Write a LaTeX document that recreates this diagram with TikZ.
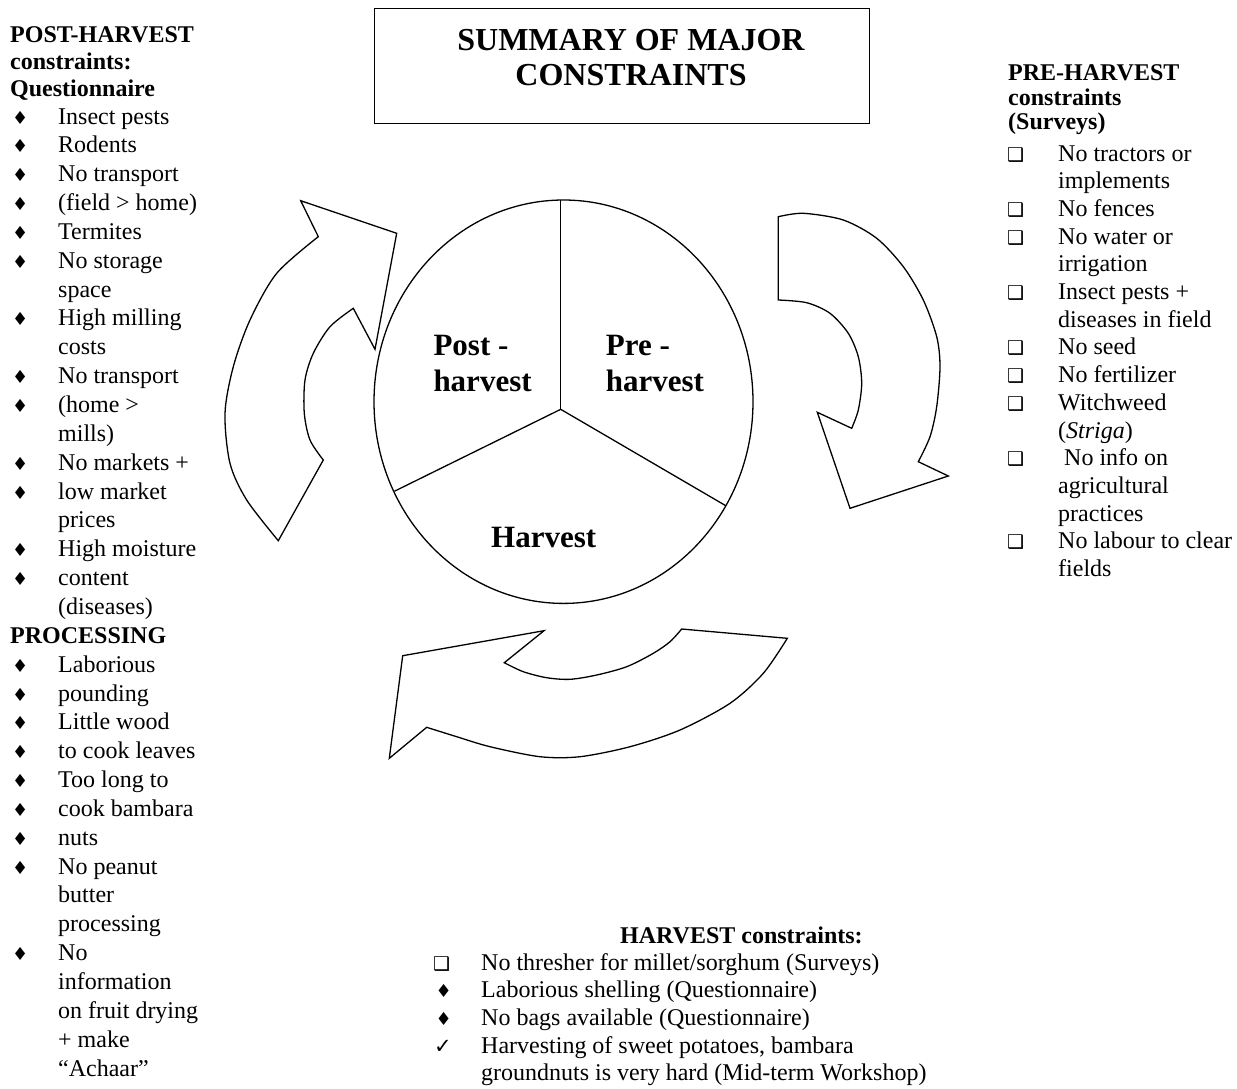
\documentclass[tikz,border=0pt]{standalone}
\usepackage{fontspec}
\setmainfont{Liberation Serif}
\newfontfamily\dejavu{DejaVu Sans}
\usetikzlibrary{shapes.geometric}
\newcommand{\dia}{{\dejavu\fontsize{18}{18}\selectfont ♦}}
\newcommand{\sqb}{{\dejavu\fontsize{19}{19}\selectfont ❑}}
\newcommand{\chk}{{\dejavu\fontsize{21}{21}\selectfont ✓}}
\newcommand{\bl}[3]{\makebox[#1pt][l]{\hspace{#2pt}#3}}
\begin{document}
\begin{tikzpicture}[x=1pt,y=-1pt,
  shp/.style={draw, line width=1.3pt, line join=miter},
  txt/.style={anchor=base west, inner sep=0pt, align=left},
  big/.style={font=\fontsize{24}{28.85}\selectfont},
  lbl/.style={anchor=base west, inner sep=0pt, align=left, font=\bfseries\fontsize{31}{36.7}\selectfont}]
\useasboundingbox (0,0) rectangle (1237,1088);

% title
\node[draw, line width=1.3pt, minimum width=495pt, minimum height=115pt, inner sep=0pt] (titlebox) at (621.7,65.8) {};
\node[anchor=base, inner sep=0pt, align=center, font=\bfseries\fontsize{32}{35}\selectfont] (title) at (631,50.5)
  {\begin{tabular}[t]{@{}c@{}}SUMMARY OF MAJOR\\CONSTRAINTS\end{tabular}};

% circle
\node[ellipse, draw, line width=1.3pt, minimum width=379pt, minimum height=403.4pt, inner sep=0pt] (circ) at (563.5,401.7) {};
\coordinate (hub) at (560.7,409.3);
\coordinate (ctop) at (560.7,200.1);
\coordinate (cll) at (394.5,491.2);
\coordinate (clr) at (725.6,505.6);
\draw[line width=1.3pt] (hub) -- (ctop);
\draw[line width=1.3pt] (hub) -- (cll);
\draw[line width=1.3pt] (hub) -- (clr);
\node[lbl] (postlbl) at (433.3,355) {\begin{tabular}[t]{@{}l@{}}Post -\\harvest\end{tabular}};
\node[lbl] (prelbl) at (605.7,355) {\begin{tabular}[t]{@{}l@{}}Pre -\\harvest\end{tabular}};
\node[lbl] (harvlbl) at (491,547.7) {Harvest};

% left arrow (up)
\draw[shp] (300.7,200.7) -- (318.3,236.7)
  -- plot[smooth] coordinates {(318.3,236.7) (276.7,273.3) (250,320) (233.3,366.7) (225,413.3) (230,463.3) (246.7,500) (278.3,540.7)}
  -- (323.3,460)
  -- plot[smooth] coordinates {(323.3,460) (310,440) (304.3,413.3) (305,380) (313.3,353.3) (330,326.7) (353.3,308.3)}
  -- (375,349.3) -- (396.7,233.3) -- cycle;

% right arrow (down)
\draw[shp] (778.3,300) -- (778.3,216.7)
  -- plot[smooth] coordinates {(778.3,216.7) (803.3,213.3) (843.3,220) (876.7,238.3) (903.3,266.7) (923.3,300) (936.7,336.7) (940,366.7) (936.7,406.7) (930,436.7) (918.3,461.7)}
  -- (948.3,476) -- (850,508.3) -- (817.3,412.3) -- (851.7,428.3)
  -- plot[smooth] coordinates {(851.7,428.3) (858.3,410) (861.7,383.3) (858.3,356.7) (848.3,333.3) (830,313.3) (806.7,302.7) (778.3,300)}
  -- cycle;

% bottom arrow (left)
\draw[shp] (681.7,629) -- (787.3,638.3)
  -- plot[smooth] coordinates {(787.3,638.3) (763.3,673.3) (730,703.3) (680,730) (630,746.7) (580,756.7) (540,756.7) (490,746.7) (456.7,736.7) (426.7,727.3)}
  -- (389.3,758.3) -- (402.7,655.7) -- (544,630.7) -- (504.3,662.7)
  -- plot[smooth] coordinates {(504.3,662.7) (523.3,671.7) (546.7,677.7) (570,679.3) (596.7,675) (626.7,666.7) (653.3,653.3) (670,641.7) (681.7,629)}
  -- cycle;

% left lists
\node[txt, font=\bfseries\fontsize{24}{27}\selectfont] (posthead) at (10,42)
  {\begin{tabular}[t]{@{}l@{}}POST-HARVEST\\constraints:\\Questionnaire\end{tabular}};
\node[txt, big] (postlist) at (10,124) {\begin{tabular}[t]{@{}l@{}l@{}}
\bl{48}{2}{\dia} & Insect pests\\
\bl{48}{2}{\dia} & Rodents\\
\bl{48}{2}{\dia} & No transport\\
\bl{48}{2}{\dia} & (field > home)\\
\bl{48}{2}{\dia} & Termites\\
\bl{48}{2}{\dia} & No storage\\
 & space\\
\bl{48}{2}{\dia} & High milling\\
 & costs\\
\bl{48}{2}{\dia} & No transport\\
\bl{48}{2}{\dia} & (home >\\
 & mills)\\
\bl{48}{2}{\dia} & No markets +\\
\bl{48}{2}{\dia} & low market\\
 & prices\\
\bl{48}{2}{\dia} & High moisture\\
\bl{48}{2}{\dia} & content\\
 & (diseases)\\
\multicolumn{2}{@{}l@{}}{\bfseries PROCESSING}\\
\bl{48}{2}{\dia} & Laborious\\
\bl{48}{2}{\dia} & pounding\\
\bl{48}{2}{\dia} & Little wood\\
\bl{48}{2}{\dia} & to cook leaves\\
\bl{48}{2}{\dia} & Too long to\\
\bl{48}{2}{\dia} & cook bambara\\
\bl{48}{2}{\dia} & nuts\\
\bl{48}{2}{\dia} & No peanut\\
 & butter\\
 & processing\\
\bl{48}{2}{\dia} & No\\
 & information\\
 & on fruit drying\\
 & + make\\
 & “Achaar”
\end{tabular}};

% right lists
\node[txt, font=\bfseries\fontsize{24}{24.5}\selectfont] (prehead) at (1008,80.5)
  {\begin{tabular}[t]{@{}l@{}}PRE-HARVEST\\constraints\\(Surveys)\end{tabular}};
\node[txt, font=\fontsize{24}{27.7}\selectfont] (prelist) at (1008,161) {\begin{tabular}[t]{@{}l@{}l@{}}
\bl{50}{-1}{\sqb} & No tractors or\\
 & implements\\
\bl{50}{-1}{\sqb} & No fences\\
\bl{50}{-1}{\sqb} & No water or\\
 & irrigation\\
\bl{50}{-1}{\sqb} & Insect pests +\\
 & diseases in field\\
\bl{50}{-1}{\sqb} & No seed\\
\bl{50}{-1}{\sqb} & No fertilizer\\
\bl{50}{-1}{\sqb} & Witchweed\\
 & (\textit{Striga})\\
\bl{50}{-1}{\sqb} & \ No info on\\
 & agricultural\\
 & practices\\
\bl{50}{-1}{\sqb} & No labour to clear\\
 & fields
\end{tabular}};

% harvest list
\node[txt, font=\bfseries\fontsize{24}{27}\selectfont] (harvhead) at (620,943) {HARVEST constraints:};
\node[txt, font=\fontsize{24}{27.7}\selectfont] (harvlist) at (433,970) {\begin{tabular}[t]{@{}l@{}l@{}}
\bl{48}{0}{\sqb} & No thresher for millet/sorghum (Surveys)\\
\bl{48}{2.5}{\dia} & Laborious shelling (Questionnaire)\\
\bl{48}{2.5}{\dia} & No bags available (Questionnaire)\\
\bl{48}{1}{\chk} & Harvesting of sweet potatoes, bambara\\
 & groundnuts is very hard (Mid-term Workshop)
\end{tabular}};
\end{tikzpicture}
\end{document}
